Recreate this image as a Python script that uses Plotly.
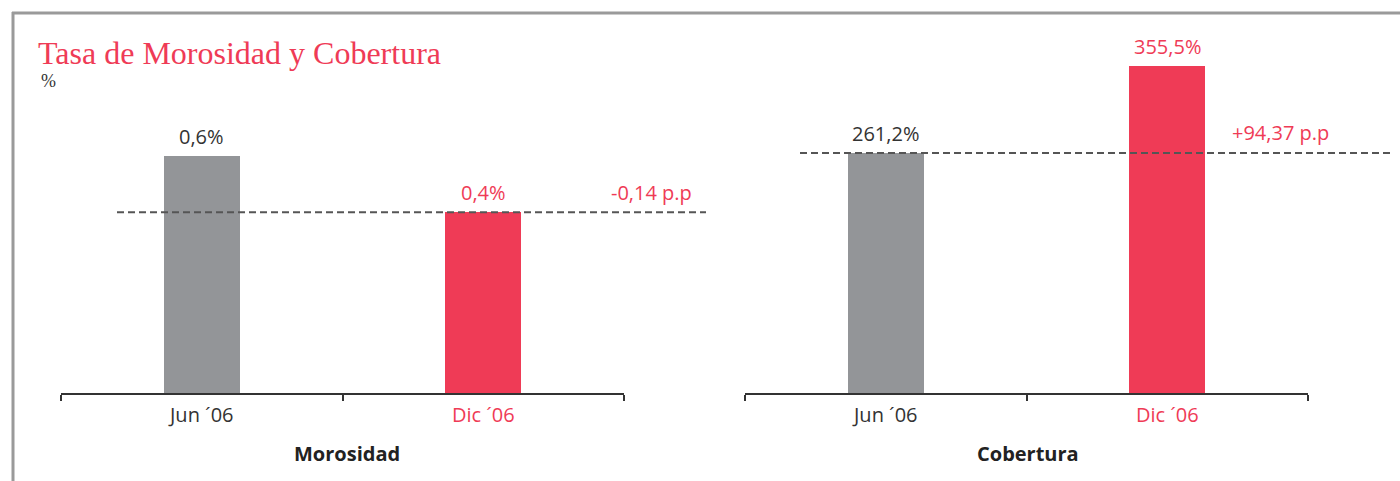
import plotly.graph_objects as go

categories = ["Jun ´06", "Dic ´06"]
morosidad = [0.59, 0.45]
cobertura = [261.2, 355.5]
morosidad_labels = ["0,6%", "0,4%"]
cobertura_labels = ["261,2%", "355,5%"]
morosidad_delta = "-0,14 p.p"
cobertura_delta = "+94,37 p.p"

GRAY = "#939598"
RED = "#EF3B56"
DARK = "#333333"
W, H = 1400, 481

def px(x):
    return x / W

def py(y):
    return 1 - y / H

fig = go.Figure()
fig.add_trace(go.Bar(x=categories, y=morosidad, marker_color=[GRAY, RED], width=0.27,
                     marker_line_width=0,
                     xaxis="x", yaxis="y", hoverinfo="skip", showlegend=False))
fig.add_trace(go.Bar(x=categories, y=cobertura, marker_color=[GRAY, RED], width=0.27,
                     marker_line_width=0,
                     xaxis="x2", yaxis="y2", hoverinfo="skip", showlegend=False))

ticktext = [f"<span style='color:{DARK}'>{categories[0]}</span>",
            f"<span style='color:{RED}'>{categories[1]}</span>"]
common_x = dict(type="category", categoryorder="array", categoryarray=categories,
                tickmode="array", tickvals=categories, ticktext=ticktext,
                tickson="boundaries", ticks="outside", ticklen=6, tickwidth=1.5,
                tickcolor=DARK, showline=True, linecolor=DARK, linewidth=1.5,
                showgrid=False, zeroline=False, range=[-0.5, 1.5],
                ticklabelstandoff=3,
                tickfont=dict(family="Open Sans", size=20, color=DARK),
                fixedrange=True)
y_bottom = py(393)
y_top = py(40)
plot_h = 393 - 40
fig.update_layout(
    width=W, height=H, margin=dict(l=0, r=0, t=0, b=0),
    paper_bgcolor="white", plot_bgcolor="white",
    bargap=0,
    xaxis=dict(domain=[px(61), px(624)], anchor="y", **common_x),
    xaxis2=dict(domain=[px(745), px(1308)], anchor="y2", **common_x),
    yaxis=dict(domain=[y_bottom, y_top], range=[0, morosidad[0] * plot_h / 237],
               visible=False, fixedrange=True),
    yaxis2=dict(domain=[y_bottom, y_top], range=[0, cobertura[0] * plot_h / 240],
                visible=False, fixedrange=True),
)

dash_style = dict(color="#555555", width=2, dash="7px,4px")
shapes = [
    dict(type="line", xref="paper", yref="y", x0=px(117), x1=px(706),
         y0=morosidad[1], y1=morosidad[1], line=dash_style),
    dict(type="line", xref="paper", yref="y2", x0=px(800), x1=px(1390),
         y0=cobertura[0], y1=cobertura[0], line=dash_style),
    dict(type="line", xref="paper", yref="paper", x0=px(12), x1=1.0,
         y0=py(13), y1=py(13), line=dict(color="#9a9a9a", width=3)),
    dict(type="line", xref="paper", yref="paper", x0=px(13), x1=px(13),
         y0=py(12), y1=0, line=dict(color="#9a9a9a", width=3)),
]
fig.update_layout(shapes=shapes)

anns = []
lbl_font = lambda c: dict(family="Open Sans", size=20, color=c)
for i, (v, t) in enumerate(zip(morosidad, morosidad_labels)):
    anns.append(dict(x=categories[i], y=v, xref="x", yref="y", text=t, showarrow=False,
                     yanchor="bottom", yshift=4, font=lbl_font(DARK if i == 0 else RED)))
for i, (v, t) in enumerate(zip(cobertura, cobertura_labels)):
    anns.append(dict(x=categories[i], y=v, xref="x2", yref="y2", text=t, showarrow=False,
                     yanchor="bottom", yshift=4, font=lbl_font(DARK if i == 0 else RED)))
anns.append(dict(x=px(651), y=morosidad[1], xref="paper", yref="y", text=morosidad_delta,
                 showarrow=False, yanchor="bottom", yshift=4, font=lbl_font(RED)))
anns.append(dict(x=px(1331), y=cobertura[0], xref="paper", yref="y2", text=cobertura_delta,
                 showarrow=False, yanchor="bottom", yshift=5, font=lbl_font(RED)))
anns.append(dict(x=px(347), y=py(453), xref="paper", yref="paper", text="<b>Morosidad</b>",
                 xanchor="center", yanchor="middle",
                 showarrow=False, font=dict(family="Open Sans", size=20, color="#222222")))
anns.append(dict(x=px(1028), y=py(453), xref="paper", yref="paper", text="<b>Cobertura</b>",
                 xanchor="center", yanchor="middle",
                 showarrow=False, font=dict(family="Open Sans", size=20, color="#222222")))
anns.append(dict(x=px(36), y=py(53), xref="paper", yref="paper", xanchor="left",
                 yanchor="middle",
                 text="Tasa de Morosidad y Cobertura", showarrow=False,
                 font=dict(family="Liberation Serif", size=32, color=RED)))
anns.append(dict(x=px(39), y=py(81), xref="paper", yref="paper", xanchor="left",
                 yanchor="middle",
                 text="%", showarrow=False,
                 font=dict(family="Liberation Serif", size=18, color=DARK)))
fig.update_layout(annotations=anns)

fig.write_html("out.html", config={"displayModeBar": False},
               post_script="document.body.style.margin='0';document.body.style.padding='0';")
